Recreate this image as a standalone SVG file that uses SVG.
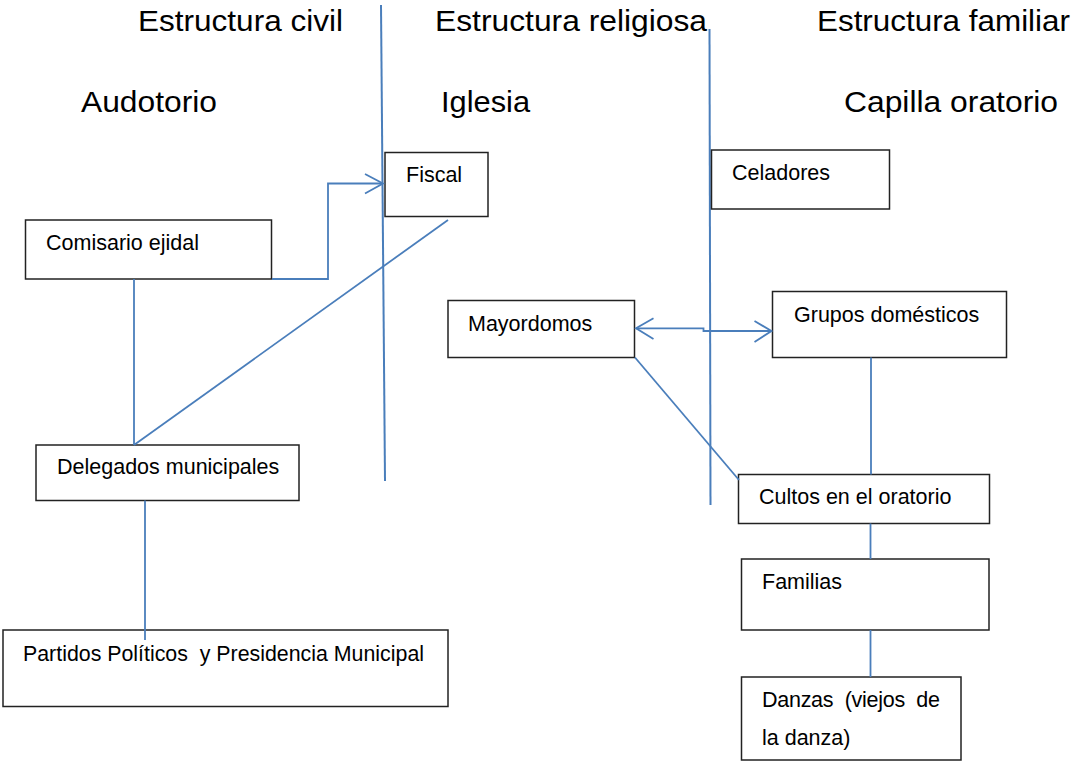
<svg xmlns="http://www.w3.org/2000/svg" width="1073" height="763" viewBox="0 0 1073 763">
<style>
.title{font-family:"Liberation Sans",Arial,sans-serif;font-size:30px;fill:#000}
.lbl{font-family:"Liberation Sans",Arial,sans-serif;font-size:21.5px;fill:#000;white-space:pre}
.box{fill:#fff;stroke:#222;stroke-width:1.5}
.con{fill:none;stroke:#4a7ebb;stroke-width:1.8}
.div{fill:none;stroke:#4a7ebb;stroke-width:2}
</style>
<rect width="1073" height="763" fill="#fff"/>
<g id="headers">
<text class="title" x="138" y="31" textLength="205" lengthAdjust="spacingAndGlyphs">Estructura civil</text>
<text class="title" x="435" y="31" textLength="272" lengthAdjust="spacingAndGlyphs">Estructura religiosa</text>
<text class="title" x="817" y="31" textLength="253" lengthAdjust="spacingAndGlyphs">Estructura familiar</text>
<text class="title" x="81" y="112" textLength="136" lengthAdjust="spacingAndGlyphs">Audotorio</text>
<text class="title" x="441" y="112" textLength="89" lengthAdjust="spacingAndGlyphs">Iglesia</text>
<text class="title" x="844" y="112" textLength="214" lengthAdjust="spacingAndGlyphs">Capilla oratorio</text>
</g>
<g id="dividers">
<line class="div" x1="381" y1="5" x2="385" y2="481"/>
<line class="div" x1="709.5" y1="29" x2="710.5" y2="505"/>
</g>
<g id="n-fiscal"><rect class="box" x="385" y="152.5" width="103" height="64"/><text class="lbl" x="406" y="182">Fiscal</text></g>
<g id="n-comisario"><rect class="box" x="25.5" y="220" width="246" height="59"/><text class="lbl" x="46" y="250">Comisario ejidal</text></g>
<g id="n-delegados"><rect class="box" x="36" y="445" width="263" height="55.5"/><text class="lbl" x="57" y="474">Delegados municipales</text></g>
<g id="n-partidos"><rect class="box" x="3" y="630" width="445" height="76.5"/><text class="lbl" x="23" y="660.5" xml:space="preserve" textLength="401" lengthAdjust="spacingAndGlyphs">Partidos Políticos  y Presidencia Municipal</text></g>
<g id="n-celadores"><rect class="box" x="711.5" y="150" width="178" height="59"/><text class="lbl" x="732" y="180">Celadores</text></g>
<g id="n-mayordomos"><rect class="box" x="448" y="300.5" width="186.5" height="57"/><text class="lbl" x="468" y="331">Mayordomos</text></g>
<g id="n-grupos"><rect class="box" x="772.5" y="291.5" width="234" height="66"/><text class="lbl" x="794" y="321.5">Grupos domésticos</text></g>
<g id="n-cultos"><rect class="box" x="738.5" y="474.5" width="251" height="49"/><text class="lbl" x="759" y="504">Cultos en el oratorio</text></g>
<g id="n-familias"><rect class="box" x="741.5" y="559" width="247.5" height="71"/><text class="lbl" x="762" y="589">Familias</text></g>
<g id="n-danzas"><rect class="box" x="741.5" y="677" width="219.5" height="83"/><text class="lbl" x="762" y="707" xml:space="preserve" textLength="178" lengthAdjust="spacing">Danzas  (viejos  de</text><text class="lbl" x="762" y="745">la danza)</text></g>
<g id="connectors">
<polyline class="con" points="272,279 328,279 328,183.5 383,183.5"/>
<polyline class="con" points="365,174 383,183.5 365,193.5"/>
<line class="con" x1="448" y1="220" x2="134" y2="445"/>
<line class="con" x1="134" y1="279" x2="134" y2="445"/>
<line class="con" x1="145" y1="500.5" x2="145" y2="640"/>
<polyline class="con" points="636,328.3 703.5,328.3 703.5,331 771.5,331"/>
<polyline class="con" points="653.5,318.3 636,328.3 653.5,339"/>
<polyline class="con" points="754.5,321 771.5,331 754.5,342"/>
<line class="con" x1="635" y1="357.5" x2="739" y2="480"/>
<line class="con" x1="871" y1="357.5" x2="871" y2="474.5"/>
<line class="con" x1="870.5" y1="523.5" x2="870.5" y2="559"/>
<line class="con" x1="870.5" y1="630" x2="870.5" y2="677"/>
</g>
</svg>
